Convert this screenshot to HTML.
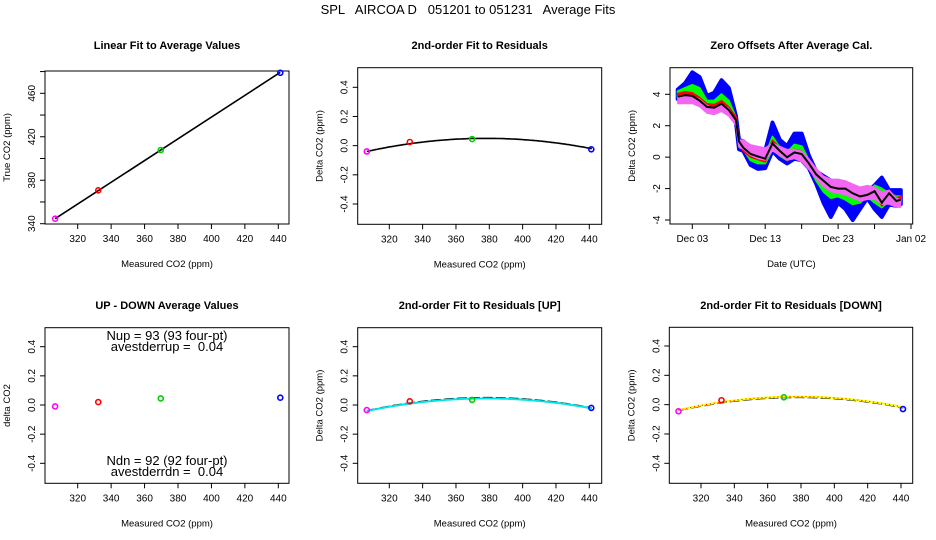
<!DOCTYPE html>
<html><head><meta charset="utf-8"><style>
body{margin:0;background:#fff;}
svg{display:block;font-family:"Liberation Sans",sans-serif;}
</style></head><body>
<svg id="c" width="936" height="540" viewBox="0 0 936 540">
<text x="468" y="14" text-anchor="middle" font-size="13" style="white-space:pre">SPL   AIRCOA D   051201 to 051231   Average Fits</text>
</svg>
<script>
// ---- data ----
const ptCO2 = [306.5, 332.3, 369.7, 441.2];
const ptTrue = [344.6, 370.7, 407.8, 478.9];
const ptColors = ['#ff00ff','#ff0000','#00cc00','#0000ff'];
const linFit = [1.0, 38.1]; // slope, intercept
const resid = [-0.04, 0.025, 0.045, -0.025];
const upDown = [-0.01, 0.02, 0.045, 0.05];
const residUp = [-0.035, 0.025, 0.035, -0.02];
const residDn = [-0.045, 0.03, 0.05, -0.03];
const quadAll = [378, 0.05, 1.76e-5]; // vertex x, peak, curvature
const quadUp = [378, 0.045, 1.7e-5];
const quadDn = [378, 0.055, 1.8e-5];
const co2Ticks = [320,340,360,380,400,420,440];
const trueTicks = [340,360,380,400,420,440,460,480];
const trueLabels = [340,380,420,460];
const dTicks = [-0.4,-0.2,0,0.2,0.4];
const dTickLabels = ['-0.4','-0.2','0.0','0.2','0.4'];
const days = [1,2,3,4,5,6,7,8,9,9.4,10,11,12,13,14,15,16,17,18,19,20,21,22,23,24,25,26,27,28,29,30,31,31.6];
const center = [3.85,3.95,3.9,3.6,3.2,3.15,3.4,3.0,2.36,1.0,0.6,0.2,0.05,-0.1,0.87,0.4,0.0,0.3,0.2,-0.4,-1.1,-1.5,-1.9,-2.0,-2.0,-2.3,-2.5,-2.4,-2.17,-2.9,-2.3,-2.8,-2.7];
const blueUp = [4.3,4.7,5.4,5.1,3.9,4.1,4.9,4.4,2.6,1.1,1.0,0.6,0.5,0.4,2.2,1.1,0.7,1.5,1.5,0.1,-0.9,-1.2,-1.5,-1.7,-1.7,-1.9,-2.3,-2.2,-1.8,-1.3,-2.1,-2.1,-2.1];
const blueDn = [3.7,3.7,3.7,3.5,3.1,2.9,3.2,2.9,2.2,0.5,0.4,-0.5,-0.75,-0.7,0.4,-0.1,-0.4,-0.1,-0.2,-0.7,-1.7,-2.9,-3.8,-2.9,-3.3,-4.0,-3.3,-2.6,-3.3,-3.8,-3.0,-3.1,-3.0];
const greenUp = [4.2,4.4,4.6,4.4,3.6,3.6,4.0,3.6,2.5,1.0,0.9,0.4,0.2,0.1,1.3,0.6,0.3,0.8,0.7,-0.2,-1.0,-1.4,-1.7,-1.9,-1.9,-2.1,-2.4,-2.3,-1.8,-2.0,-2.3,-2.5,-2.5];
const greenDn = [3.8,3.8,3.8,3.6,3.2,3.0,3.3,3.0,2.3,0.7,0.5,-0.2,-0.4,-0.4,0.5,0.1,-0.2,0.1,0.0,-0.6,-1.5,-2.2,-2.6,-2.5,-2.7,-3.0,-2.9,-2.5,-2.9,-3.2,-2.8,-2.8,-2.8];
const magUp = [3.9,3.9,3.9,3.7,3.3,3.1,3.4,3.1,2.3,1.1,1.1,0.8,0.7,0.6,0.9,0.7,0.5,0.5,0.4,-0.1,-0.7,-1.2,-1.4,-1.4,-1.5,-1.7,-1.9,-1.8,-1.9,-2.2,-2.1,-2.6,-2.7];
const magDn = [3.4,3.4,3.4,3.2,2.8,2.7,2.9,2.6,2.0,0.6,0.5,0.1,-0.1,-0.2,0.4,0.1,-0.2,-0.1,-0.3,-0.8,-1.4,-1.9,-2.2,-2.3,-2.4,-2.6,-2.8,-2.7,-2.7,-3.0,-3.0,-3.2,-3.2];
const redHalf = [0.2];
const dateTicks = [3,8,13,18,23,28,33];
const dateLabels = ['Dec 03','','Dec 13','','Dec 23','','Jan 02'];
const offTicks = [-4,-2,0,2,4];

// ---- helpers ----
const svg = document.getElementById('c');
const NS = 'http://www.w3.org/2000/svg';
function mk(tag, attrs, parent){const e=document.createElementNS(NS,tag);for(const k in attrs)e.setAttribute(k,attrs[k]);(parent||svg).appendChild(e);return e;}
function lin(d0,d1,p0,p1){return v=>p0+(v-d0)*(p1-p0)/(d1-d0);}

function panel(name, box, sx, sy, title, xlab, ylab, xt, xl, yt, yl){
  const g = mk('g',{});
  
  
  const t = mk('text',{x:(box.x0+box.x1)/2,y:box.ty,'text-anchor':'middle','font-size':11,'font-weight':'bold'},g);
  t.textContent = title;
  
  
  const r = mk('rect',{x:box.x0,y:box.y0,width:box.x1-box.x0,height:box.y1-box.y0,fill:'none',stroke:'#000','stroke-width':1},g);
  
  
  xt.forEach((v,i)=>{
    const x=sx(v);
    mk('line',{x1:x,x2:x,y1:box.y1,y2:box.y1+5,stroke:'#000'},g);
    if(xl[i]!==''){const tx=mk('text',{x:x,y:box.y1+18,'text-anchor':'middle','font-size':10},g);tx.textContent=xl[i];
      
      }
  });
  yt.forEach((v,i)=>{
    const y=sy(v);
    mk('line',{x1:box.x0-5,x2:box.x0,y1:y,y2:y,stroke:'#000'},g);
    if(yl[i]!==''){const tx=mk('text',{x:box.x0-10,y:y,'text-anchor':'middle','font-size':10,transform:`rotate(-90 ${box.x0-10} ${y})`},g);tx.textContent=yl[i];
      
      }
  });
  const xa=mk('text',{x:(box.x0+box.x1)/2,y:box.y1+43,'text-anchor':'middle','font-size':9.5},g);
  xa.textContent=xlab;
  
  
  const yx=box.x0-35, yy=(box.y0+box.y1)/2;
  const ya=mk('text',{x:yx,y:yy,'text-anchor':'middle','font-size':9.5,transform:`rotate(-90 ${yx} ${yy})`},g);
  ya.textContent=ylab;
  
  
  return g;
}
function points(g, name, sx, sy, xs, ys){
  xs.forEach((v,i)=>{
    const c=mk('circle',{cx:sx(v),cy:sy(ys[i]),r:2.5,fill:'none',stroke:ptColors[i],'stroke-width':1.6},g);
    
    
  });
}
function quad(g, name, sx, sy, q, color, width, dash){
  let d='';
  for(let x=306.5;x<=441.5;x+=1){const y=q[1]-q[2]*(x-q[0])*(x-q[0]);d+=(d?'L':'M')+sx(x).toFixed(1)+','+sy(y).toFixed(1);}
  const p=mk('path',{d:d,fill:'none',stroke:color,'stroke-width':width},g);
  if(dash)p.setAttribute('stroke-dasharray',dash);
  
  
}
const co2Labels = co2Ticks.map(String);

// Panel 1
{
  const box={x0:45,x1:289,y0:71,y1:224,ty:49};
  const sx=lin(320,440,77.7,278.3), sy=lin(340,460,223.7,93.3);
  const g=panel('linear-fit-panel',box,sx,sy,'Linear Fit to Average Values','Measured CO2 (ppm)','True CO2 (ppm)',co2Ticks,co2Labels,trueTicks,trueTicks.map(v=>trueLabels.includes(v)?String(v):''));
  const x0=306.5,x1=441.2;
  const l=mk('line',{x1:sx(x0),y1:sy(linFit[0]*x0+linFit[1]),x2:sx(x1),y2:sy(linFit[0]*x1+linFit[1]),stroke:'#000','stroke-width':1.6},g);
  
  
  points(g,'linear-fit',sx,sy,ptCO2,ptTrue);
}
// Panel 2
{
  const box={x0:357.7,x1:601.7,y0:67.7,y1:224.3,ty:49};
  const sx=lin(320,440,389.3,589.3), sy=lin(-0.4,0.4,204,87.3);
  const g=panel('residual-fit-panel',box,sx,sy,'2nd-order Fit to Residuals','Measured CO2 (ppm)','Delta CO2 (ppm)',co2Ticks,co2Labels,dTicks,dTickLabels);
  quad(g,'residual-fit-curve',sx,sy,quadAll,'#000',1.6);
  points(g,'residual',sx,sy,ptCO2,resid);
}
// Panel 3
{
  const box={x0:670,x1:912.7,y0:67.7,y1:224,ty:49};
  const sx=lin(3,13,692.3,765.2), sy=lin(-4,4,220,94.3);
  const g=panel('zero-offsets-panel',box,sx,sy,'Zero Offsets After Average Cal.','Date (UTC)','Delta CO2 (ppm)',dateTicks,dateLabels,offTicks,offTicks.map(String));
  function band(up,dn,fill,sw,name){
    let d='';
    days.forEach((v,i)=>{d+=(d?'L':'M')+sx(v).toFixed(1)+','+sy(up[i]).toFixed(1);});
    for(let i=days.length-1;i>=0;i--)d+='L'+sx(days[i]).toFixed(1)+','+sy(dn[i]).toFixed(1);
    const p=mk('path',{d:d+'Z',fill:fill,stroke:fill,'stroke-width':sw,'stroke-linejoin':'round'},g);
    
    
  }
  band(blueUp,blueDn,'#0000ff',4,'blue-band');
  band(greenUp,greenDn,'#00ff00',2,'green-band');
  band(center.map(v=>v+redHalf[0]),center.map(v=>v-redHalf[0]),'#ff0000',1.5,'red-band');
  band(magUp,magDn,'#f266f2',1,'magenta-band');
  let d='';
  days.forEach((v,i)=>{d+=(d?'L':'M')+sx(v).toFixed(1)+','+sy(center[i]).toFixed(1);});
  const p=mk('path',{d:d,fill:'none',stroke:'#000','stroke-width':2},g);
  
  
}
// Panel 4
{
  const box={x0:45,x1:289,y0:327.7,y1:483.3,ty:309};
  const sx=lin(320,440,77.7,278.3), sy=lin(-0.4,0.4,463.3,346.7);
  const g=panel('up-down-panel',box,sx,sy,'UP - DOWN Average Values','Measured CO2 (ppm)','delta CO2',co2Ticks,co2Labels,dTicks,dTickLabels);
  points(g,'up-down',sx,sy,ptCO2,upDown);
  [['Nup = 93 (93 four-pt)',340],['avestderrup =  0.04',351],['Ndn = 92 (92 four-pt)',465],['avestderrdn =  0.04',476]].forEach(a=>{
    const t=mk('text',{x:167,y:a[1],'text-anchor':'middle','font-size':13,style:'white-space:pre'},g);
    t.textContent=a[0];
    
    
  });
}
// Panel 5
{
  const box={x0:357.7,x1:601.7,y0:327.7,y1:483.3,ty:309};
  const sx=lin(320,440,389.3,589.3), sy=lin(-0.4,0.4,463.3,346.7);
  const g=panel('residual-up-panel',box,sx,sy,'2nd-order Fit to Residuals [UP]','Measured CO2 (ppm)','Delta CO2 (ppm)',co2Ticks,co2Labels,dTicks,dTickLabels);
  quad(g,'residual-fit-curve',sx,sy,quadAll,'#000',1.6,'10,3');
  quad(g,'residual-up-curve',sx,sy,quadUp,'#00e5e5',2);
  points(g,'residual-up',sx,sy,ptCO2,residUp);
}
// Panel 6
{
  const box={x0:669.3,x1:912.7,y0:327.3,y1:483.3,ty:309};
  const sx=lin(320,440,701,901), sy=lin(-0.4,0.4,463.3,346);
  const g=panel('residual-down-panel',box,sx,sy,'2nd-order Fit to Residuals [DOWN]','Measured CO2 (ppm)','Delta CO2 (ppm)',co2Ticks,co2Labels,dTicks,dTickLabels);
  quad(g,'residual-fit-curve',sx,sy,quadAll,'#000',1.6,'10,3');
  quad(g,'residual-down-curve',sx,sy,quadDn,'#ffff00',2);
  quad(g,'residual-down-curve-dots',sx,sy,quadDn,'#ff0000',1,'1,3');
  points(g,'residual-down',sx,sy,ptCO2,residDn);
}
</script>
</body></html>
